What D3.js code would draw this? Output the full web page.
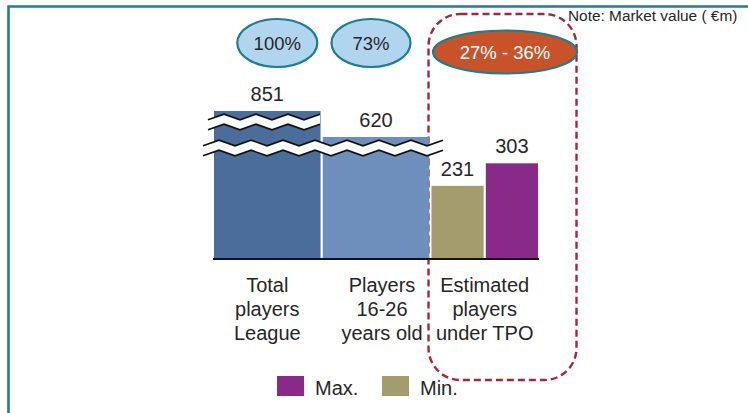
<!DOCTYPE html>
<html>
<head>
<meta charset="utf-8">
<script src="https://cdn.jsdelivr.net/npm/d3@7"></script>
<style>
  html, body { margin: 0; padding: 0; background: #fff; }
  svg { display: block; font-family: "Liberation Sans", Arial, sans-serif; }
</style>
</head>
<body>
<svg id="chart" width="748" height="413"></svg>
<script>
// ---- data ----
const categories = ["Total players League", "Players 16-26 years old", "Estimated players under TPO"];
const categoryLines = [["Total", "players", "League"], ["Players", "16-26", "years old"], ["Estimated", "players", "under TPO"]];
const singleValues = [851, 620];           // first two categories
const tpoSeries = ["Min.", "Max."];
const tpoValues = [231, 303];              // third category: Min., Max.
const shareLabels = ["100%", "73%", "27% - 36%"];
const legendOrder = ["Max.", "Min."];
const noteText = "Note: Market value ( €m)";

// ---- styles ----
const colors = {
  bar0: "#4a6d9b", bar1: "#6e8fbb", "Min.": "#a59c6d", "Max.": "#8a2a88",
  teal: "#1b7f8f", text: "#262626", dash: "#a3283c", orange: "#c8532b", light: "#b1d5ef"
};

const svg = d3.select("#chart");

// frame
svg.append("path")
  .attr("d", "M8.5,413 L8.5,6.5 L748,6.5")
  .attr("fill", "none").attr("stroke", colors.teal).attr("stroke-width", 2.6);

// scales (broken value axis: compressed above the break)
const x = d3.scaleBand().domain(categories).range([214, 538]).paddingInner(0.02);
const xSub = d3.scaleBand().domain(tpoSeries).range([0, x.bandwidth()]).paddingInner(0.04);
const y = d3.scaleLinear().domain([0, 320, 620, 851]).range([258, 158, 137, 111]);

// dashed highlight box
svg.append("rect")
  .attr("x", 428.5).attr("y", 14).attr("width", 148).attr("height", 366)
  .attr("rx", 32).attr("ry", 32)
  .attr("fill", "none").attr("stroke", colors.dash).attr("stroke-width", 2.4)
  .attr("stroke-dasharray", "7,4");

// bars
const g = svg.append("g");
singleValues.forEach((v, i) => {
  g.append("rect")
    .attr("x", x(categories[i])).attr("width", x.bandwidth())
    .attr("y", y(v)).attr("height", y(0) - y(v))
    .attr("fill", colors["bar" + i]);
  g.append("text")
    .attr("x", x(categories[i]) + x.bandwidth() / 2).attr("y", y(v) - 10)
    .attr("text-anchor", "middle").attr("font-size", 20).attr("fill", colors.text)
    .text(v);
});
tpoSeries.forEach((s, i) => {
  const v = tpoValues[i];
  const bx = x(categories[2]) + xSub(s);
  g.append("rect")
    .attr("x", bx).attr("width", xSub.bandwidth())
    .attr("y", y(v)).attr("height", y(0) - y(v))
    .attr("fill", colors[s]);
  g.append("text")
    .attr("x", bx + xSub.bandwidth() / 2).attr("y", y(v) - 10)
    .attr("text-anchor", "middle").attr("font-size", 20).attr("fill", colors.text)
    .text(v);
});

// axis break marks
function zig(x0, x1, yc) {
  const pts = [];
  const period = 32, amp = 2.8;
  let k = 0;
  for (let xx = x0; xx <= x1 + 0.1; xx += period / 2, k++) {
    pts.push([xx, yc + (k % 2 === 0 ? amp : -amp)]);
  }
  return pts;
}
function breakMark(x0, x1, yTop, thick) {
  const top = zig(x0, x1, yTop);
  const bot = zig(x0, x1, yTop + thick);
  const band = top.concat(bot.slice().reverse());
  svg.append("path").attr("d", d3.line()(band) + "Z").attr("fill", "#fff");
  svg.append("path").attr("d", d3.line()(top)).attr("fill", "none").attr("stroke", "#111").attr("stroke-width", 1.6);
  svg.append("path").attr("d", d3.line()(bot)).attr("fill", "none").attr("stroke", "#111").attr("stroke-width", 1.6);
}
breakMark(208, 328, 117, 10);
breakMark(203, 443, 143, 10);

// baseline
svg.append("line")
  .attr("x1", 213).attr("x2", 539).attr("y1", y(0) + 1).attr("y2", y(0) + 1)
  .attr("stroke", "#111").attr("stroke-width", 2);

// category labels
categories.forEach((c, i) => {
  const t = svg.append("text")
    .attr("text-anchor", "middle").attr("font-size", 20).attr("fill", colors.text);
  categoryLines[i].forEach((line, j) => {
    t.append("tspan").attr("x", x(c) + x.bandwidth() / 2 + (i === 1 ? 6 : 0)).attr("y", 292 + j * 24).text(line);
  });
});

// share ellipses
const ell = [
  { cx: x(categories[0]) + x.bandwidth() / 2 + 10, cy: 43, rx: 40, ry: 24, fill: colors.light, tc: colors.text },
  { cx: x(categories[1]) + x.bandwidth() / 2 - 5, cy: 43, rx: 39.5, ry: 24, fill: colors.light, tc: colors.text },
  { cx: 505, cy: 52, rx: 72, ry: 21.5, fill: colors.orange, tc: "#fff" }
];
ell.forEach((e, i) => {
  svg.append("ellipse")
    .attr("cx", e.cx).attr("cy", e.cy).attr("rx", e.rx).attr("ry", e.ry)
    .attr("fill", e.fill).attr("stroke", colors.teal).attr("stroke-width", 2.2);
  svg.append("text")
    .attr("x", e.cx).attr("y", e.cy + 6.5).attr("text-anchor", "middle")
    .attr("font-size", 18.5).attr("fill", e.tc).text(shareLabels[i]);
});

// note
svg.append("text").attr("x", 568).attr("y", 21).attr("font-size", 15.4)
  .attr("fill", colors.text).text(noteText);

// legend
const legX = [277, 382];
legendOrder.forEach((s, i) => {
  svg.append("rect").attr("x", legX[i]).attr("y", 376).attr("width", 27).attr("height", 20)
    .attr("fill", colors[s]);
  svg.append("text").attr("x", legX[i] + 38).attr("y", 395).attr("font-size", 20)
    .attr("fill", colors.text).text(s);
});
</script>
</body>
</html>
